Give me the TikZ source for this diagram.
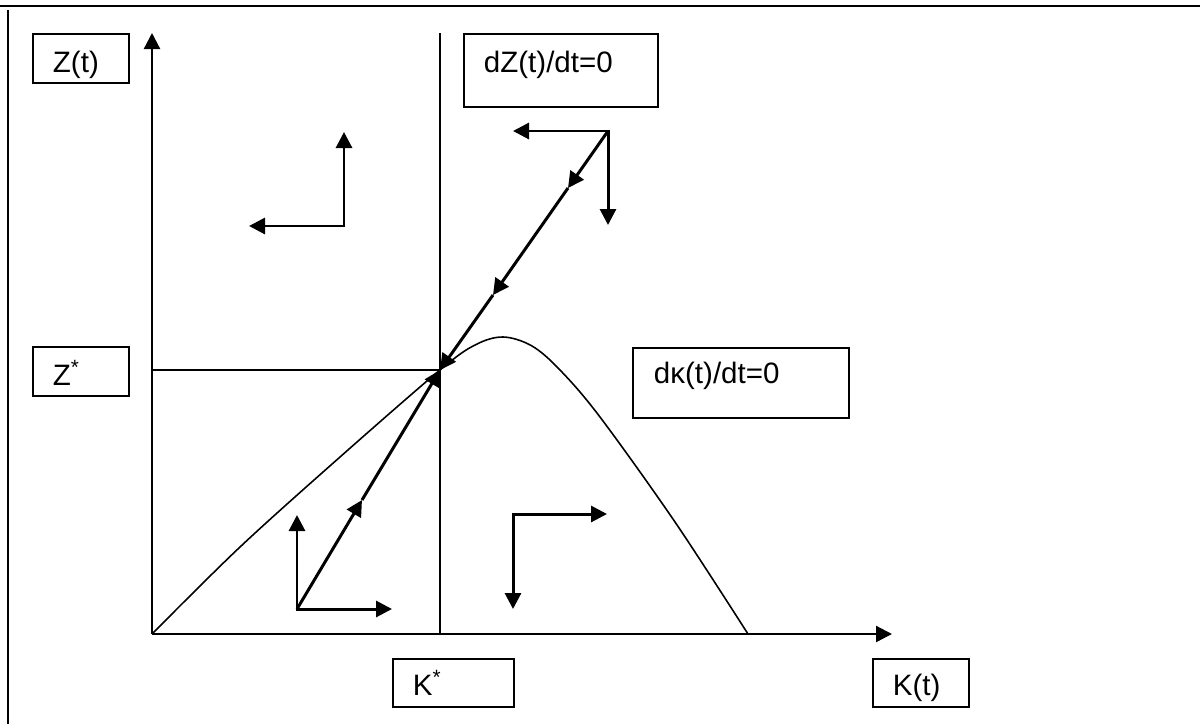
\documentclass[tikz,border=0pt]{standalone}
\usepackage{fontspec}
\setmainfont{Liberation Sans}
\usetikzlibrary{arrows.meta}

\begin{document}
\begin{tikzpicture}[x=0.02cm, y=-0.02cm,
    >={Triangle[length=0.32cm, width=0.32cm]},
    lbl/.style={draw, line width=1.1pt, anchor=north west, inner xsep=0.4cm,
      inner ysep=0pt, align=left, font=\fontsize{16.8}{18}\selectfont},
    axis/.style={->, line width=1.3pt},
    guide/.style={line width=0.9pt},
    flow/.style={->, line width=1.7pt}]
    \useasboundingbox (0,0) rectangle (1200,724);
    \draw[line width=1.2pt] (0,6) -- (1200,6);
    \draw[line width=1.2pt] (8,10) -- (8,724);

    \coordinate (O) at (152,634);
    \coordinate (ytip) at (152,33);
    \coordinate (xtip) at (892,634);
    \coordinate (S) at (440,370);
    \coordinate (Stop) at (440,33);
    \coordinate (Sbot) at (440,634);
    \coordinate (Sleft) at (152,370);
    \draw[axis] (O) -- (ytip);
    \draw[axis] (O) -- (xtip);
    \draw[guide] (Stop) -- (Sbot);
    \draw[guide] (Sleft) -- (S);

    \draw[guide] plot[smooth, tension=0.55] coordinates {(152,634) (240,547)
      (340,457) (440,370) (475,345) (503,337) (532,346) (560,370) (600,417)
      (675,522) (748,634)};

    \node[lbl, text width=1.12cm, text height=0.78cm, text depth=0.2cm] (zt) at (32,33) {Z(t)};
    \node[lbl, text width=3.08cm, text height=0.78cm, text depth=0.68cm] (dz) at (463,33) {dZ(t)/dt=0};
    \node[lbl, text width=1.12cm, text height=0.78cm, text depth=0.2cm] (zs) at (32,346) {Z\textsuperscript{*}};
    \node[lbl, inner xsep=0.42cm, text width=3.48cm, text height=0.72cm, text depth=0.68cm] (dk) at (632,347) {dκ(t)/dt=0};
    \node[lbl, text width=1.62cm, text height=0.74cm, text depth=0.22cm] (ks) at (392,658) {K\textsuperscript{*}};
    \node[lbl, text width=1.12cm, text height=0.74cm, text depth=0.22cm] (kt) at (872,658) {K(t)};

    % saddle path
    \coordinate (A) at (608,131);
    \coordinate (a1) at (568,188);
    \coordinate (a2) at (493,295);
    \coordinate (B) at (297,609);
    \coordinate (b1) at (362,500);
    \draw[flow] (A) -- (a1);
    \draw[flow] (a1) -- (a2);
    \draw[flow] (a2) -- (S);
    \draw[flow] (B) -- (b1);
    \draw[flow] (b1) -- (S);

    % directions in each region
    \coordinate (ul) at (344,226);
    \coordinate (lr) at (513,514);
    \draw[flow, <->] (249,226) -- (ul) -- (344,132);
    \draw[flow, <->] (513,609) -- (lr) -- (607,514);
    \draw[flow, <->] (297,515) -- (B) -- (392,609);
    \draw[flow, <->] (513,131) -- (A) -- (608,225);
\end{tikzpicture}
\end{document}
